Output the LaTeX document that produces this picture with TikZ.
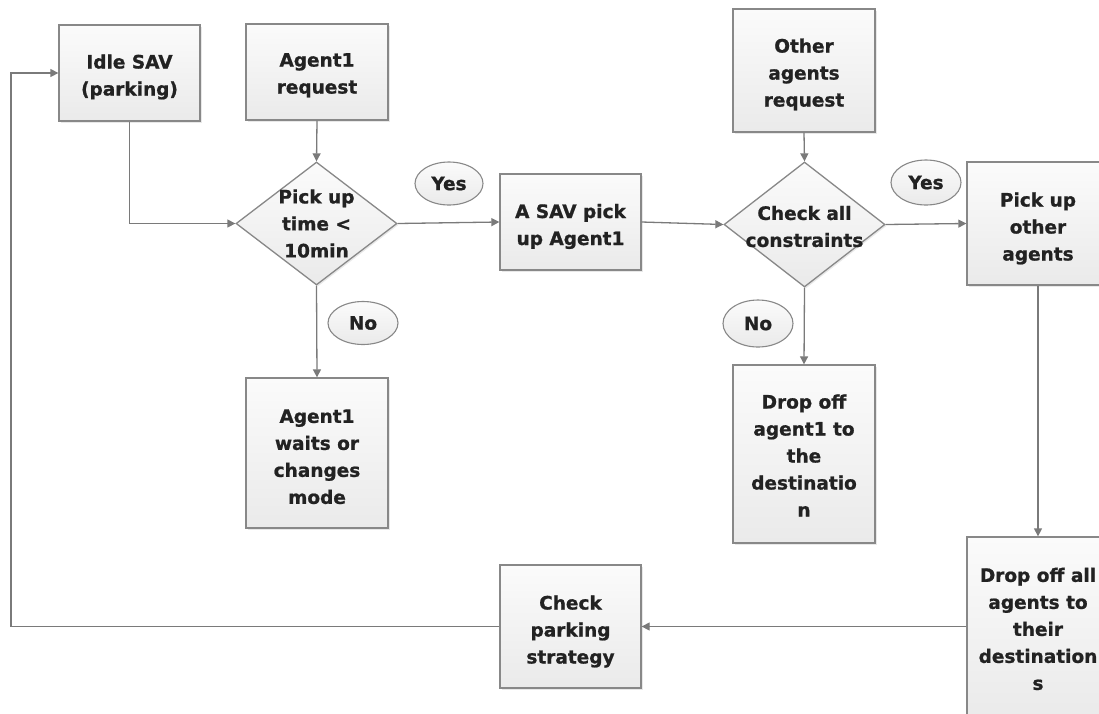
\documentclass[tikz,border=0pt]{standalone}
\usepackage{fontspec}
\setmainfont{DejaVu Sans}
\newfontfamily\heavyfont{DejaVu Sans Bold}[FakeBold=1.0]
\usetikzlibrary{shapes.geometric,arrows.meta,shadows}
\newcommand\lowr[1]{\rule{0pt}{#1pt}}
\definecolor{linegray}{HTML}{7A7A7A}
\definecolor{bordergray}{HTML}{888888}
\definecolor{txtcol}{HTML}{222222}
\definecolor{filltop}{HTML}{FBFBFB}
\definecolor{fillbot}{HTML}{EAEAEA}
\tikzset{
  txt/.style={font=\fontsize{18.5}{27}\selectfont\heavyfont, text=txtcol, align=center},
  shapebase/.style={draw=bordergray, line width=1.3pt, top color=filltop, bottom color=fillbot,
    drop shadow={opacity=0.18, shadow xshift=1.5pt, shadow yshift=-1.5pt}},
  stepbox/.style={shapebase, txt, rectangle, inner sep=2pt},
  dia/.style={shapebase, diamond, inner sep=0pt, minimum width=161, minimum height=123},
  oval/.style={draw=bordergray, line width=1.1pt, top color=filltop, bottom color=fillbot,
    ellipse, inner sep=0pt, minimum width=69, minimum height=44, txt},
  arr/.style={draw=linegray, line width=1.3pt, -{Triangle[length=8pt,width=8pt]}},
}
\begin{document}
\begin{tikzpicture}[x=1pt,y=-1pt]
\useasboundingbox[fill=white] (0,0) rectangle (1099,713);

% boxes
\node[stepbox, minimum width=141, minimum height=96] (idle) at (129.5,73) {\lowr{22}Idle SAV\\(parking)};
\node[stepbox, minimum width=142, minimum height=96] (req) at (317,72) {\lowr{20}Agent1\\request};
\node[dia, label={[txt]center:{Pick up\\time <\\10min}}] (d1) at (316.5,223.5) {};
\node[stepbox, minimum width=141, minimum height=96] (sav) at (570.5,222) {\lowr{23}A SAV pick\\up Agent1};
\node[stepbox, minimum width=142, minimum height=123] (other) at (804,70.5) {\lowr{22}Other\\agents\\request};
\node[dia, minimum height=125, label={[txt, yshift=-2pt]center:{Check all\\constraints}}] (d2) at (804.5,224.5) {};
\node[stepbox, minimum width=142, minimum height=123] (pick) at (1038,223.5) {\lowr{24}Pick up\\other\\agents};
\node[stepbox, minimum width=142, minimum height=150] (wait) at (317,453) {\lowr{21}Agent1\\waits or\\changes\\mode};
\node[stepbox, minimum width=142, minimum height=178] (drop1) at (804,454) {\lowr{17}Drop off\\agent1 to\\the\\destinatio\\n};
\node[stepbox, minimum width=142, minimum height=182] (dropall) at (1038,628) {\lowr{16}Drop off all\\agents to\\their\\destination\\s};
\node[stepbox, minimum width=141, minimum height=123] (park) at (570.5,626.5) {\lowr{24}Check\\parking\\strategy};

% yes / no labels
\node[oval, minimum width=68, minimum height=43] (yes1) at (449,183.5) {Yes};
\node[oval, minimum width=70, minimum height=43] (no1) at (363,323) {No};
\node[oval, minimum width=70, minimum height=45] (yes2) at (926,182.5) {Yes};
\node[oval, minimum width=70, minimum height=47] (no2) at (758,323.5) {No};

% loop-back corner points
\coordinate (lb) at (11,626.5);
\coordinate (lt) at (11,73);

% connectors
\draw[arr] (idle.south) |- (d1.west);
\draw[arr] (req.south) -- (d1.north);
\draw[arr] (d1.east) -- (sav.west);
\draw[arr] (d1.south) -- (wait.north);
\draw[arr] (sav.east) -- (d2.west);
\draw[arr] (other.south) -- (d2.north);
\draw[arr] (d2.east) -- (pick.west);
\draw[arr] (d2.south) -- (drop1.north);
\draw[arr] (pick.south) -- (dropall.north);
\draw[arr] (park.east -| dropall.west) -- (park.east);
\draw[arr] (park.west) -- (lb) -- (lt) -- (idle.west);
\end{tikzpicture}
\end{document}
